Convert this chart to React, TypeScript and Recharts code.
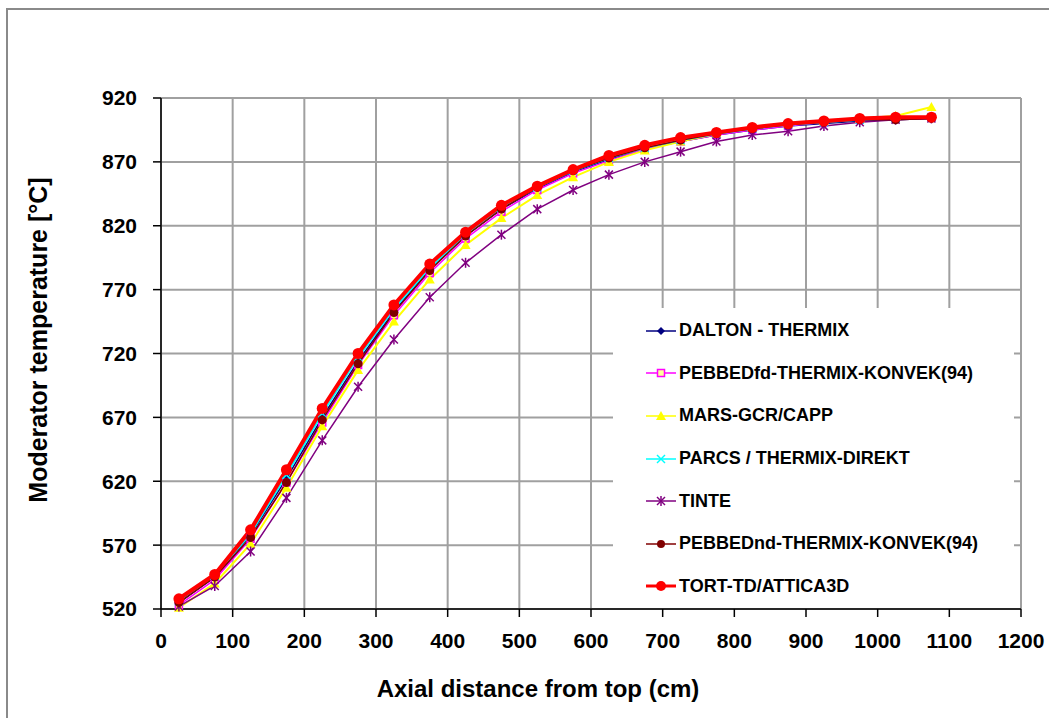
import { CartesianGrid, Legend, Line, LineChart, XAxis, YAxis } from "recharts"

const distance = [25, 75, 125, 175, 225, 275, 325, 375, 425, 475, 525, 575, 625, 675, 725, 775, 825, 875, 925, 975, 1025, 1075]

const dalton = [525, 545, 578, 622, 670, 714, 753, 786, 812, 833, 849, 862, 872, 880, 886, 891, 895, 898, 900, 902, 903, 904]
const pebbedFd = [523, 543, 575, 619, 666, 711, 750, 783, 810, 831, 848, 861, 871, 880, 886, 891, 895, 898, 901, 903, 904, 905]
const mars = [521, 540, 571, 615, 663, 707, 745, 778, 805, 826, 844, 858, 870, 879, 886, 892, 897, 900, 902, 904, 906, 913]
const parcs = [526, 546, 579, 625, 673, 717, 755, 787, 813, 834, 850, 863, 873, 881, 887, 892, 896, 899, 901, 903, 904, 905]
const tinte = [522, 538, 565, 607, 652, 694, 731, 764, 791, 813, 833, 848, 860, 870, 878, 886, 891, 894, 898, 901, 903, 904]
const pebbedNd = [525, 545, 576, 619, 668, 712, 752, 785, 812, 833, 850, 863, 873, 881, 887, 892, 896, 899, 901, 903, 903, 904]
const tort = [528, 547, 582, 629, 677, 720, 758, 790, 815, 836, 851, 864, 875, 883, 889, 893, 897, 900, 902, 904, 905, 905]

const xTicks = [0, 100, 200, 300, 400, 500, 600, 700, 800, 900, 1000, 1100, 1200]
const yTicks = [520, 570, 620, 670, 720, 770, 820, 870, 920]

type Shape = "diamond" | "square" | "triangle" | "cross" | "star" | "circle"

const series: { key: string; name: string; color: string; width: number; shape: Shape; size: number }[] = [
  { key: "dalton", name: "DALTON - THERMIX", color: "#000080", width: 1.5, shape: "diamond", size: 4 },
  { key: "pebbedFd", name: "PEBBEDfd-THERMIX-KONVEK(94)", color: "#ff00ff", width: 1.5, shape: "square", size: 3.5 },
  { key: "mars", name: "MARS-GCR/CAPP", color: "#ffff00", width: 2, shape: "triangle", size: 5 },
  { key: "parcs", name: "PARCS / THERMIX-DIREKT", color: "#00ffff", width: 2, shape: "cross", size: 4 },
  { key: "tinte", name: "TINTE", color: "#800080", width: 1.5, shape: "star", size: 4 },
  { key: "pebbedNd", name: "PEBBEDnd-THERMIX-KONVEK(94)", color: "#800000", width: 1.5, shape: "circle", size: 4.5 },
  { key: "tort", name: "TORT-TD/ATTICA3D", color: "#ff0000", width: 4, shape: "circle", size: 5.5 },
]

const data = distance.map((x, i) => ({
  x,
  dalton: dalton[i],
  pebbedFd: pebbedFd[i],
  mars: mars[i],
  parcs: parcs[i],
  tinte: tinte[i],
  pebbedNd: pebbedNd[i],
  tort: tort[i],
}))

const font = "'Liberation Sans', Arial, sans-serif"

function Marker({ shape, cx, cy, color, size }: { shape: Shape; cx: number; cy: number; color: string; size: number }) {
  const s = size
  if (shape === "diamond")
    return <polygon points={`${cx},${cy - s} ${cx + s},${cy} ${cx},${cy + s} ${cx - s},${cy}`} fill={color} />
  if (shape === "square")
    return <rect x={cx - s} y={cy - s} width={2 * s} height={2 * s} fill="#ffff99" stroke={color} strokeWidth={1.5} />
  if (shape === "triangle")
    return <polygon points={`${cx},${cy - s} ${cx + s},${cy + s * 0.8} ${cx - s},${cy + s * 0.8}`} fill={color} />
  if (shape === "cross")
    return (
      <g stroke={color} strokeWidth={1.5}>
        <line x1={cx - s} y1={cy - s} x2={cx + s} y2={cy + s} />
        <line x1={cx - s} y1={cy + s} x2={cx + s} y2={cy - s} />
      </g>
    )
  if (shape === "star")
    return (
      <g stroke={color} strokeWidth={1.5}>
        <line x1={cx - s} y1={cy - s} x2={cx + s} y2={cy + s} />
        <line x1={cx - s} y1={cy + s} x2={cx + s} y2={cy - s} />
        <line x1={cx} y1={cy - s - 1} x2={cx} y2={cy + s + 1} />
      </g>
    )
  return <circle cx={cx} cy={cy} r={s} fill={color} />
}

function LegendBox() {
  return (
    <div style={{ background: "white", width: 401, height: 300, position: "relative" }}>
      {series.map((s, i) => (
        <div
          key={s.key}
          style={{
            position: "absolute",
            left: 32,
            top: 22.7 + i * 42.6 - 12,
            height: 24,
            display: "flex",
            alignItems: "center",
          }}
        >
          <svg width={34} height={24}>
            <line x1={1} y1={12} x2={31} y2={12} stroke={s.color} strokeWidth={s.width === 4 ? 3 : 1.5} />
            <Marker shape={s.shape} cx={16} cy={12} color={s.color} size={s.shape === "circle" ? s.size - 0.5 : s.size} />
          </svg>
          <span style={{ fontFamily: font, fontWeight: "bold", fontSize: 18, color: "#000", whiteSpace: "nowrap" }}>
            {s.name}
          </span>
        </div>
      ))}
    </div>
  )
}

export default function App() {
  return (
    <div style={{ position: "absolute", left: 0, top: 0, width: 1049, height: 718, overflow: "hidden", background: "white" }}>
      <div
        style={{
          position: "absolute",
          left: 6,
          top: 8,
          width: 1200,
          height: 900,
          border: "2px solid #8a8a8a",
        }}
      />
      <LineChart
        width={1049}
        height={718}
        data={data}
        margin={{ top: 98, right: 28, bottom: 49, left: 61 }}
        style={{ position: "absolute", left: 0, top: 0 }}
      >
        <CartesianGrid stroke="#a0a0a0" strokeWidth={2} />
        <XAxis
          dataKey="x"
          type="number"
          domain={[0, 1200]}
          ticks={xTicks}
          height={60}
          stroke="#000"
          strokeWidth={1.5}
          tickSize={8}
          tickMargin={16}
          tick={{ fill: "#000", fontSize: 21, fontWeight: "bold", fontFamily: font }}
          label={({ viewBox }: any) => (
            <text
              x={viewBox.x + viewBox.width / 2 - 53}
              y={697}
              textAnchor="middle"
              fontFamily={font}
              fontWeight="bold"
              fontSize={24}
              fill="#000"
            >
              Axial distance from top (cm)
            </text>
          )}
        />
        <YAxis
          type="number"
          domain={[520, 920]}
          ticks={yTicks}
          width={100}
          stroke="#000"
          strokeWidth={1.5}
          tickSize={8}
          tickMargin={16}
          tick={{ fill: "#000", fontSize: 21, fontWeight: "bold", fontFamily: font }}
          label={() => (
            <text
              x={38}
              y={340}
              transform="rotate(-90 38 340)"
              textAnchor="middle"
              dominantBaseline="central"
              fontFamily={font}
              fontWeight="bold"
              fontSize={25}
              fill="#000"
            >
              Moderator temperature [°C]
            </text>
          )}
        />
        <Legend
          layout="vertical"
          align="center"
          verticalAlign="middle"
          content={() => <LegendBox />}
          wrapperStyle={{ position: "absolute", left: 613, top: 308, width: 401, height: 300 }}
        />
        {series.map((s) => (
          <Line
            key={s.key}
            type="linear"
            dataKey={s.key}
            name={s.name}
            stroke={s.color}
            strokeWidth={s.width}
            isAnimationActive={false}
            dot={(p: any) => (
              <Marker key={`${s.key}-${p.index}`} shape={s.shape} cx={p.cx} cy={p.cy} color={s.color} size={s.size} />
            )}
            activeDot={false}
          />
        ))}
      </LineChart>
    </div>
  )
}
